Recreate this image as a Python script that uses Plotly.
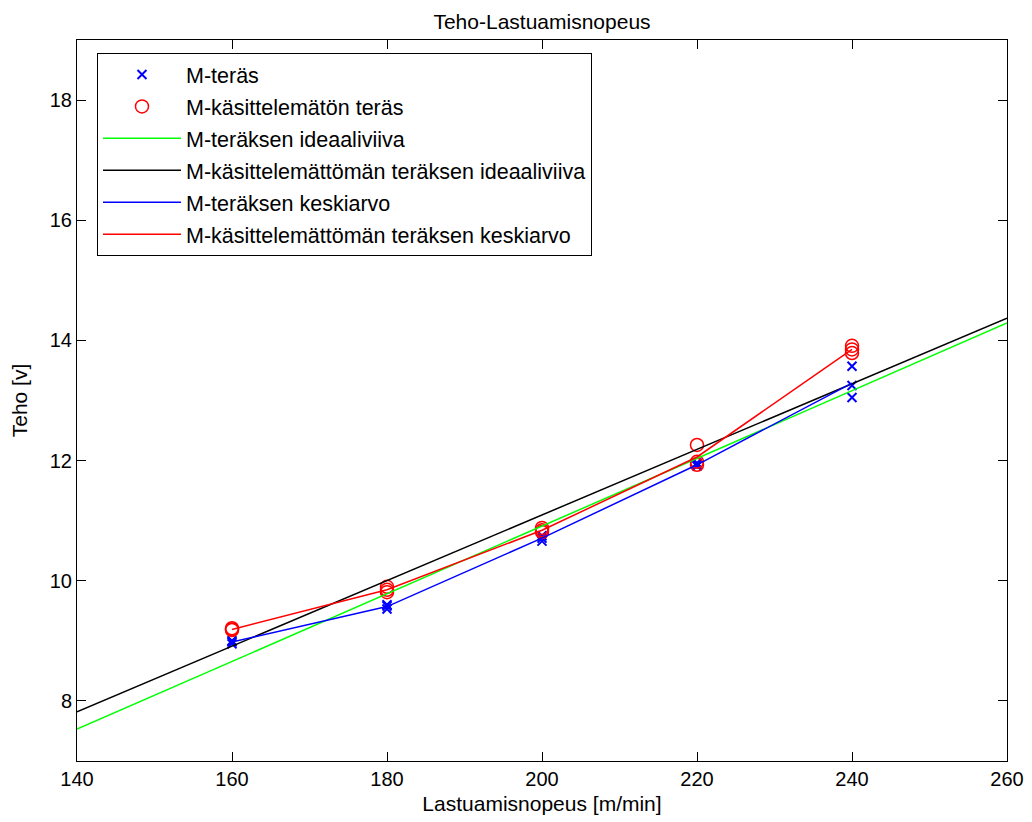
import plotly.graph_objects as go

speeds = [160, 180, 200, 220, 240]
# individual measurements (3 per speed)
m_teras_x = [160, 160, 160, 180, 180, 180, 200, 200, 200, 220, 220, 220, 240, 240, 240]
m_teras_y = [8.95, 9.00, 8.98, 9.53, 9.60, 9.58, 10.66, 10.71, 10.75, 11.91, 11.96, 11.93, 13.05, 13.25, 13.57]
m_kas_x = [160, 160, 160, 180, 180, 180, 200, 200, 200, 220, 220, 220, 240, 240, 240]
m_kas_y = [9.18, 9.21, 9.19, 9.81, 9.90, 9.85, 10.81, 10.88, 10.84, 11.93, 11.98, 12.26, 13.79, 13.91, 13.85]
# averages
m_teras_mean = [8.98, 9.57, 10.71, 11.93, 13.29]
m_kas_mean = [9.19, 9.85, 10.84, 12.06, 13.85]
# ideal lines
ideal_x = [140, 260]
ideal_m_teras = [7.53, 14.29]
ideal_m_kas = [7.82, 14.37]

FONT = "Liberation Sans, Arial, sans-serif"

fig = go.Figure()
fig.add_trace(go.Scatter(x=m_teras_x, y=m_teras_y, mode="markers", name="M-teräs", legendgroup="a",
                         marker=dict(symbol="x-thin-open", size=9, color="#0000ff",
                                     line=dict(color="#0000ff", width=2))))
fig.add_trace(go.Scatter(x=m_kas_x, y=m_kas_y, mode="markers", name="M-käsittelemätön teräs", legendgroup="b",
                         marker=dict(symbol="circle-open", size=13, color="#ff0000",
                                     line=dict(color="#ff0000", width=1.5))))
fig.add_trace(go.Scatter(x=ideal_x, y=ideal_m_teras, mode="lines", name="M-teräksen ideaaliviiva", legendgroup="c",
                         line=dict(color="#00ff00", width=1.5)))
fig.add_trace(go.Scatter(x=ideal_x, y=ideal_m_kas, mode="lines", name="M-käsittelemättömän teräksen ideaaliviiva",
                         legendgroup="d", line=dict(color="#000000", width=1.5)))
fig.add_trace(go.Scatter(x=speeds, y=m_teras_mean, mode="lines", name="M-teräksen keskiarvo", legendgroup="e",
                         line=dict(color="#0000ff", width=1.5)))
fig.add_trace(go.Scatter(x=speeds, y=m_kas_mean, mode="lines", name="M-käsittelemättömän teräksen keskiarvo",
                         legendgroup="f", line=dict(color="#ff0000", width=1.5)))

axis_common = dict(showgrid=False, zeroline=False, showline=True, linecolor="black", linewidth=1,
                   mirror="ticks", ticks="inside", ticklen=9, tickcolor="black",
                   tickfont=dict(family=FONT, size=20, color="black"))

fig.update_layout(
    width=1032, height=822,
    margin=dict(l=69, r=33, t=32, b=69),
    paper_bgcolor="white", plot_bgcolor="white",
    title=dict(text="Teho-Lastuamisnopeus", xref="paper", x=0.5, xanchor="center",
               yref="container", y=0.984, yanchor="middle",
               font=dict(family=FONT, size=21, color="black")),
    xaxis=dict(range=[140, 260], tickvals=[140, 160, 180, 200, 220, 240, 260],
               title=dict(text="Lastuamisnopeus [m/min]", font=dict(family=FONT, size=21, color="black"), standoff=7),
               **axis_common),
    yaxis=dict(range=[7, 19], tickvals=[8, 10, 12, 14, 16, 18],
               title=dict(text="Teho [v]", font=dict(family=FONT, size=21, color="black"), standoff=16),
               **axis_common),
    legend=dict(x=0.0215, y=0.982, xanchor="left", yanchor="top", bgcolor="white",
                bordercolor="black", borderwidth=1, itemwidth=78, tracegroupgap=1,
                font=dict(family=FONT, size=21.5, color="black")),
    showlegend=True,
)

fig.write_html("out.html")
